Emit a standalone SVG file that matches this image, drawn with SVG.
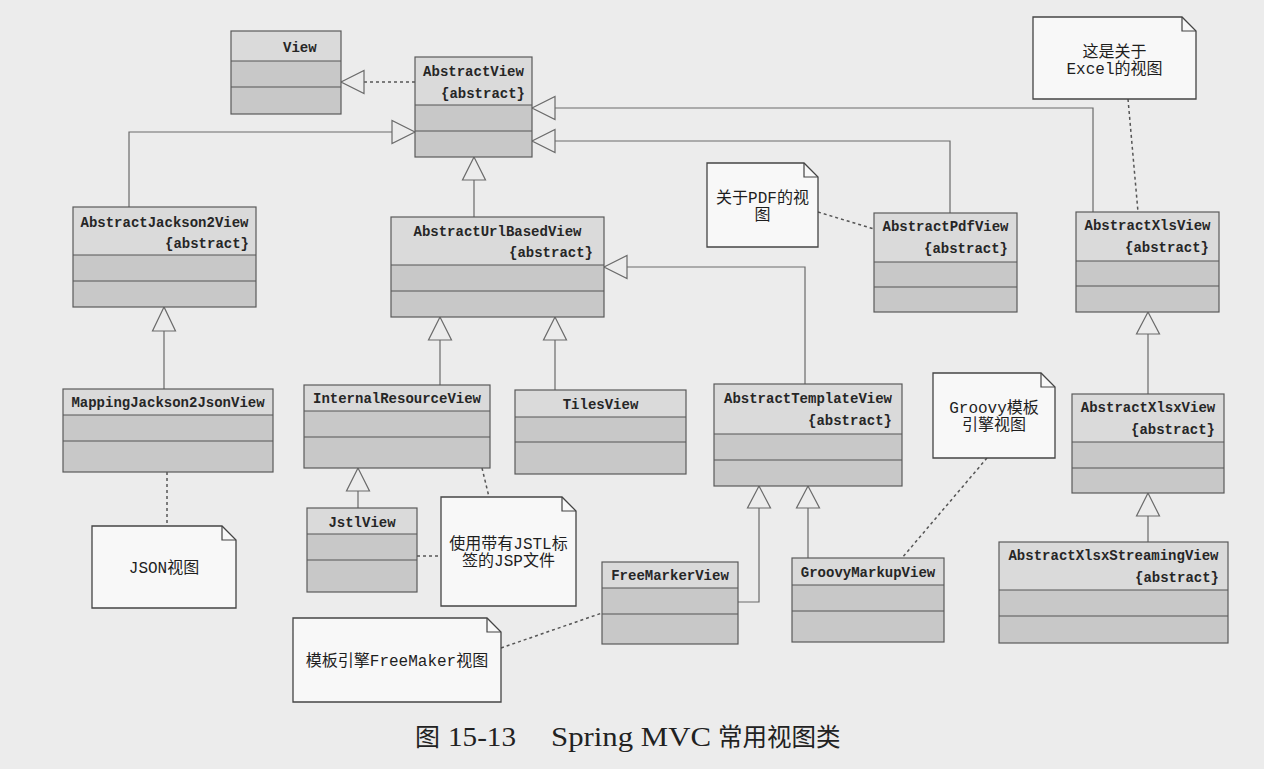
<svg xmlns="http://www.w3.org/2000/svg" width="1264" height="769" viewBox="0 0 1264 769">
<defs>
<style>
.bg{fill:#ececec}
.hd{fill:#dadada}
.cp{fill:#c8c8c8}
.ol{fill:none;stroke:#5a5a5a;stroke-width:1.2}
.dv{stroke:#555;stroke-width:1.2}
.n{font-family:"Liberation Mono","DejaVu Sans Mono",monospace;font-size:14px;font-weight:bold;fill:#262626}
.c{text-anchor:middle}
.e{text-anchor:end}
.note{fill:#f8f8f8;stroke:#444;stroke-width:1.3}
.fold{fill:none;stroke:#444;stroke-width:1.2}
.nt{font-family:"Liberation Mono","Noto Sans CJK SC",monospace;font-size:16px;fill:#1e1e1e;text-anchor:middle}
.ln{fill:none;stroke:#6a6a6a;stroke-width:1.2}
.dl{fill:none;stroke:#555;stroke-width:1.5;stroke-dasharray:3 3}
.tri{fill:#ececec;stroke:#6a6a6a;stroke-width:1.2}
.cap{font-family:"Liberation Serif","Noto Sans CJK SC",serif;fill:#222}
</style>
</defs>
<rect class="bg" x="0" y="0" width="1264" height="769"/>

<g id="connectors">
<path class="dl" d="M415,82 H364"/>
<path class="tri" d="M341,82 L364,70.5 L364,93.5 Z"/>
<path class="ln" d="M129,207 V132 H392"/>
<path class="tri" d="M415,132 L392,120.5 L392,143.5 Z"/>
<path class="ln" d="M474,217 V180"/>
<path class="tri" d="M474,157 L462.5,180 L485.5,180 Z"/>
<path class="ln" d="M950,213 V141 H555"/>
<path class="tri" d="M532,141 L555,129.5 L555,152.5 Z"/>
<path class="ln" d="M1093,212 V108 H555"/>
<path class="tri" d="M532,108 L555,96.5 L555,119.5 Z"/>
<path class="ln" d="M164,389 V331"/>
<path class="tri" d="M164,307 L152.5,331 L175.5,331 Z"/>
<path class="ln" d="M440,385 V340"/>
<path class="tri" d="M440,317 L428.5,340 L451.5,340 Z"/>
<path class="ln" d="M555,390 V340"/>
<path class="tri" d="M555,317 L543.5,340 L566.5,340 Z"/>
<path class="ln" d="M805,384 V267 H627"/>
<path class="tri" d="M604,267 L627,255.5 L627,278.5 Z"/>
<path class="ln" d="M358,508 V491"/>
<path class="tri" d="M358,468 L346.5,491 L369.5,491 Z"/>
<path class="ln" d="M738,602 H759 V508"/>
<path class="tri" d="M759,486 L747.5,508 L770.5,508 Z"/>
<path class="ln" d="M808,558 V508"/>
<path class="tri" d="M808,486 L796.5,508 L819.5,508 Z"/>
<path class="ln" d="M1148,394 V334"/>
<path class="tri" d="M1148,312 L1136.5,334 L1159.5,334 Z"/>
<path class="ln" d="M1148,542 V516"/>
<path class="tri" d="M1148,493 L1136.5,516 L1159.5,516 Z"/>
<path class="dl" d="M167,472 V526"/>
<path class="dl" d="M417,556 H441"/>
<path class="dl" d="M482,468 L489,497"/>
<path class="dl" d="M501,648 L602,613"/>
<path class="dl" d="M987,458 L902,558"/>
<path class="dl" d="M818,212 L874,229"/>
<path class="dl" d="M1128,99 L1138,212"/>
</g>

<g id="View">
<rect class="cp" x="231" y="31" width="110" height="83"/>
<rect class="hd" x="231" y="31" width="110" height="30"/>
<path class="dv" d="M231,61 H341 M231,87 H341"/>
<rect class="ol" x="231" y="31" width="110" height="83"/>
<text class="n" x="283" y="52">View</text>
</g>

<g id="AbstractView">
<rect class="cp" x="415" y="57" width="117" height="100"/>
<rect class="hd" x="415" y="57" width="117" height="48"/>
<path class="dv" d="M415,105 H532 M415,131 H532"/>
<rect class="ol" x="415" y="57" width="117" height="100"/>
<text class="n c" x="473.5" y="76">AbstractView</text>
<text class="n e" x="525" y="98">{abstract}</text>
</g>

<g id="AbstractJackson2View">
<rect class="cp" x="73" y="207" width="183" height="100"/>
<rect class="hd" x="73" y="207" width="183" height="48"/>
<path class="dv" d="M73,255 H256 M73,281 H256"/>
<rect class="ol" x="73" y="207" width="183" height="100"/>
<text class="n c" x="164.5" y="227">AbstractJackson2View</text>
<text class="n e" x="249" y="248">{abstract}</text>
</g>

<g id="AbstractUrlBasedView">
<rect class="cp" x="391" y="217" width="213" height="100"/>
<rect class="hd" x="391" y="217" width="213" height="48"/>
<path class="dv" d="M391,265 H604 M391,291 H604"/>
<rect class="ol" x="391" y="217" width="213" height="100"/>
<text class="n c" x="497.5" y="236">AbstractUrlBasedView</text>
<text class="n e" x="593" y="257">{abstract}</text>
</g>

<g id="AbstractPdfView">
<rect class="cp" x="874" y="213" width="143" height="99"/>
<rect class="hd" x="874" y="213" width="143" height="49"/>
<path class="dv" d="M874,262 H1017 M874,287 H1017"/>
<rect class="ol" x="874" y="213" width="143" height="99"/>
<text class="n c" x="945.5" y="231">AbstractPdfView</text>
<text class="n e" x="1008" y="253">{abstract}</text>
</g>

<g id="AbstractXlsView">
<rect class="cp" x="1076" y="212" width="143" height="100"/>
<rect class="hd" x="1076" y="212" width="143" height="49"/>
<path class="dv" d="M1076,261 H1219 M1076,286 H1219"/>
<rect class="ol" x="1076" y="212" width="143" height="100"/>
<text class="n c" x="1147.5" y="230">AbstractXlsView</text>
<text class="n e" x="1209" y="252">{abstract}</text>
</g>

<g id="MappingJackson2JsonView">
<rect class="cp" x="63" y="389" width="210" height="83"/>
<rect class="hd" x="63" y="389" width="210" height="26"/>
<path class="dv" d="M63,415 H273 M63,441 H273"/>
<rect class="ol" x="63" y="389" width="210" height="83"/>
<text class="n c" x="168" y="407">MappingJackson2JsonView</text>
</g>

<g id="InternalResourceView">
<rect class="cp" x="304" y="385" width="186" height="83"/>
<rect class="hd" x="304" y="385" width="186" height="26"/>
<path class="dv" d="M304,411 H490 M304,437 H490"/>
<rect class="ol" x="304" y="385" width="186" height="83"/>
<text class="n c" x="397" y="403">InternalResourceView</text>
</g>

<g id="TilesView">
<rect class="cp" x="515" y="390" width="171" height="84"/>
<rect class="hd" x="515" y="390" width="171" height="27"/>
<path class="dv" d="M515,417 H686 M515,442 H686"/>
<rect class="ol" x="515" y="390" width="171" height="84"/>
<text class="n c" x="600.5" y="409">TilesView</text>
</g>

<g id="AbstractTemplateView">
<rect class="cp" x="714" y="384" width="188" height="102"/>
<rect class="hd" x="714" y="384" width="188" height="50"/>
<path class="dv" d="M714,434 H902 M714,460 H902"/>
<rect class="ol" x="714" y="384" width="188" height="102"/>
<text class="n c" x="808" y="403">AbstractTemplateView</text>
<text class="n e" x="892" y="425">{abstract}</text>
</g>

<g id="AbstractXlsxView">
<rect class="cp" x="1072" y="394" width="152" height="99"/>
<rect class="hd" x="1072" y="394" width="152" height="48"/>
<path class="dv" d="M1072,442 H1224 M1072,468 H1224"/>
<rect class="ol" x="1072" y="394" width="152" height="99"/>
<text class="n c" x="1148" y="412">AbstractXlsxView</text>
<text class="n e" x="1215" y="434">{abstract}</text>
</g>

<g id="JstlView">
<rect class="cp" x="307" y="508" width="110" height="84"/>
<rect class="hd" x="307" y="508" width="110" height="26"/>
<path class="dv" d="M307,534 H417 M307,560 H417"/>
<rect class="ol" x="307" y="508" width="110" height="84"/>
<text class="n c" x="362" y="527">JstlView</text>
</g>

<g id="FreeMarkerView">
<rect class="cp" x="602" y="562" width="136" height="82"/>
<rect class="hd" x="602" y="562" width="136" height="26"/>
<path class="dv" d="M602,588 H738 M602,614 H738"/>
<rect class="ol" x="602" y="562" width="136" height="82"/>
<text class="n c" x="670" y="580">FreeMarkerView</text>
</g>

<g id="GroovyMarkupView">
<rect class="cp" x="792" y="558" width="152" height="84"/>
<rect class="hd" x="792" y="558" width="152" height="27"/>
<path class="dv" d="M792,585 H944 M792,611 H944"/>
<rect class="ol" x="792" y="558" width="152" height="84"/>
<text class="n c" x="868" y="577">GroovyMarkupView</text>
</g>

<g id="AbstractXlsxStreamingView">
<rect class="cp" x="999" y="542" width="229" height="101"/>
<rect class="hd" x="999" y="542" width="229" height="48"/>
<path class="dv" d="M999,590 H1228 M999,616 H1228"/>
<rect class="ol" x="999" y="542" width="229" height="101"/>
<text class="n c" x="1113.5" y="560">AbstractXlsxStreamingView</text>
<text class="n e" x="1219" y="582">{abstract}</text>
</g>

<g id="noteExcel">
<path class="note" d="M1033,17 H1182 L1196,31 V99 H1033 Z"/>
<path class="fold" d="M1182,17 V31 H1196"/>
<text class="nt" x="1114.5" y="57">这是关于</text>
<text class="nt" x="1114.5" y="74">Excel的视图</text>
</g>

<g id="notePdf">
<path class="note" d="M707,163 H804 L818,177 V247 H707 Z"/>
<path class="fold" d="M804,163 V177 H818"/>
<text class="nt" x="762.5" y="203">关于PDF的视</text>
<text class="nt" x="762.5" y="220">图</text>
</g>

<g id="noteGroovy">
<path class="note" d="M933,373 H1041 L1055,387 V458 H933 Z"/>
<path class="fold" d="M1041,373 V387 H1055"/>
<text class="nt" x="994" y="413">Groovy模板</text>
<text class="nt" x="994" y="430">引擎视图</text>
</g>

<g id="noteJson">
<path class="note" d="M92,526 H222 L236,540 V608 H92 Z"/>
<path class="fold" d="M222,526 V540 H236"/>
<text class="nt" x="164" y="573">JSON视图</text>
</g>

<g id="noteJstl">
<path class="note" d="M441,497 H562 L576,511 V606 H441 Z"/>
<path class="fold" d="M562,497 V511 H576"/>
<text class="nt" x="508.5" y="549">使用带有JSTL标</text>
<text class="nt" x="508.5" y="566">签的JSP文件</text>
</g>

<g id="noteFreeMaker">
<path class="note" d="M293,618 H487 L501,632 V702 H293 Z"/>
<path class="fold" d="M487,618 V632 H501"/>
<text class="nt" x="397" y="666">模板引擎FreeMaker视图</text>
</g>

<g id="caption">
<text class="cap" x="415" y="746" font-size="25">图</text>
<text class="cap" x="448" y="746" font-size="28" textLength="68" lengthAdjust="spacingAndGlyphs">15-13</text>
<text class="cap" x="551" y="746" font-size="28" textLength="160" lengthAdjust="spacingAndGlyphs">Spring MVC</text>
<text class="cap" x="718" y="746" font-size="24.5">常用视图类</text>
</g>
</svg>
